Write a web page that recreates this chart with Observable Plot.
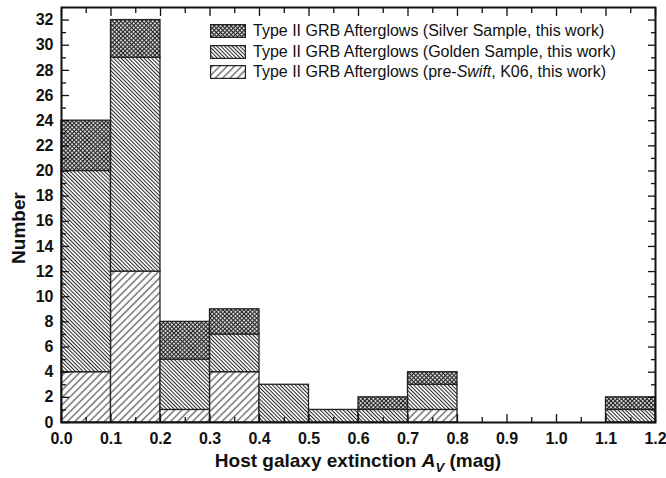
<!DOCTYPE html>
<html>
<head>
<meta charset="utf-8">
<script src="https://cdn.jsdelivr.net/npm/d3@7"></script>
<script src="https://cdn.jsdelivr.net/npm/@observablehq/plot@0.6"></script>
<style>
  body { margin: 0; background: #fff; }
  #wrap { position: relative; width: 666px; height: 478px; font-family: "Liberation Sans", Arial, Helvetica, sans-serif; color: #111; }
  #wrap svg.plot { position: absolute; left: 0; top: 0; }
  .xtitle { position: absolute; left: 0; width: 716px; top: 451px; text-align: center; font-size: 19px; font-weight: bold; line-height: 19px; white-space: nowrap; }
  .xtitle sub { font-size: 13px; vertical-align: -5px; line-height: 0; }
  .ytitle { position: absolute; left: 18px; top: 228px; font-size: 19px; font-weight: bold; line-height: 19px; transform: translate(-50%, -50%) rotate(-90deg); white-space: nowrap; }
  .legend { position: absolute; left: 210px; top: 21px; font-size: 16px; line-height: 20.5px; }
  .legend .row { display: flex; align-items: center; height: 20.5px; white-space: nowrap; }
  .legend svg { margin-right: 7px; flex: none; }
</style>
</head>
<body>
<div id="wrap"></div>
<script>
// ---- data ----
const binStart = [0.0, 0.1, 0.2, 0.3, 0.4, 0.5, 0.6, 0.7, 0.8, 0.9, 1.0, 1.1];
const binWidth = 0.1;
const preSwift = [4, 12, 1, 4, 0, 0, 0, 1, 0, 0, 0, 0];   // bottom layer
const golden   = [16, 17, 4, 3, 3, 1, 1, 2, 0, 0, 0, 1];  // middle layer
const silver   = [4, 3, 3, 2, 0, 0, 1, 1, 0, 0, 0, 1];    // top layer
const seriesNames = [
  "Type II GRB Afterglows (Silver Sample, this work)",
  "Type II GRB Afterglows (Golden Sample, this work)",
  "Type II GRB Afterglows (pre-Swift, K06, this work)"
];
const xMajorTicks = [0.0, 0.1, 0.2, 0.3, 0.4, 0.5, 0.6, 0.7, 0.8, 0.9, 1.0, 1.1, 1.2];
const xMinorTicks = [0.05, 0.15, 0.25, 0.35, 0.45, 0.55, 0.65, 0.75, 0.85, 0.95, 1.05, 1.15];
const yMajorTicks = [0, 2, 4, 6, 8, 10, 12, 14, 16, 18, 20, 22, 24, 26, 28, 30, 32];
const yMinorTicks = [1, 3, 5, 7, 9, 11, 13, 15, 17, 19, 21, 23, 25, 27, 29, 31];

// ---- stacked segments ----
const layers = [
  {key: "pre", values: preSwift, fill: "url(#patPre)"},
  {key: "golden", values: golden, fill: "url(#patGolden)"},
  {key: "silver", values: silver, fill: "url(#patSilver)"}
];
const segments = {pre: [], golden: [], silver: []};
binStart.forEach((x0, i) => {
  let base = 0;
  for (const L of layers) {
    const v = L.values[i];
    if (v > 0) segments[L.key].push({x1: x0, x2: x0 + binWidth, y1: base, y2: base + v});
    base += v;
  }
});

const blank = () => "";
const tickStroke = {stroke: "#111", strokeWidth: 1.3};

const svg = Plot.plot({
  width: 666,
  height: 478,
  marginLeft: 61,
  marginRight: 11,
  marginTop: 7,
  marginBottom: 56,
  className: "plot",
  style: {fontFamily: "'Liberation Sans', Arial, Helvetica, sans-serif", fontSize: "16px", fontWeight: "bold", color: "#111", background: "transparent"},
  x: {domain: [0, 1.2]},
  y: {domain: [0, 33]},
  marks: [
    ...layers.map(L => Plot.rect(segments[L.key], {x1: "x1", x2: "x2", y1: "y1", y2: "y2", fill: L.fill, stroke: "#222", strokeWidth: 1.3})),
    // inward ticks on all four sides
    Plot.axisX({anchor: "bottom", ticks: xMajorTicks, tickSize: -8, tickFormat: blank, label: null, ...tickStroke}),
    Plot.axisX({anchor: "bottom", ticks: xMinorTicks, tickSize: -5, tickFormat: blank, label: null, ...tickStroke}),
    Plot.axisX({anchor: "top", ticks: xMajorTicks, tickSize: -8, tickFormat: blank, label: null, ...tickStroke}),
    Plot.axisX({anchor: "top", ticks: xMinorTicks, tickSize: -5, tickFormat: blank, label: null, ...tickStroke}),
    Plot.axisY({anchor: "left", ticks: yMajorTicks, tickSize: -8, tickFormat: blank, label: null, ...tickStroke}),
    Plot.axisY({anchor: "left", ticks: yMinorTicks, tickSize: -5, tickFormat: blank, label: null, ...tickStroke}),
    Plot.axisY({anchor: "right", ticks: yMajorTicks, tickSize: -8, tickFormat: blank, label: null, ...tickStroke}),
    Plot.axisY({anchor: "right", ticks: yMinorTicks, tickSize: -5, tickFormat: blank, label: null, ...tickStroke}),
    // tick labels
    Plot.axisX({anchor: "bottom", ticks: xMajorTicks, tickSize: 0, tickPadding: 10, tickFormat: d3.format(".1f"), label: null, fill: "#111"}),
    Plot.axisY({anchor: "left", ticks: yMajorTicks, tickSize: 0, tickPadding: 8, tickFormat: d3.format("d"), label: null, fill: "#111"}),
    Plot.frame({stroke: "#111", strokeWidth: 2})
  ]
});

// hatch patterns
const defs = d3.select(svg).insert("defs", ":first-child");
function linePattern(id, size, angle, color, width) {
  const p = defs.append("pattern").attr("id", id).attr("patternUnits", "userSpaceOnUse")
    .attr("width", size).attr("height", size).attr("patternTransform", `rotate(${angle})`);
  p.append("rect").attr("width", size).attr("height", size).attr("fill", "#fff");
  p.append("line").attr("x1", size / 2).attr("x2", size / 2).attr("y1", 0).attr("y2", size)
    .attr("stroke", color).attr("stroke-width", width);
  return p;
}
linePattern("patPre", 5.2, 45, "#333", 1);
linePattern("patGolden", 2.7, -45, "#222", 1);
const ps = linePattern("patSilver", 3, 45, "#222", 1.2);
ps.append("line").attr("x1", 0).attr("x2", 3).attr("y1", 1.5).attr("y2", 1.5).attr("stroke", "#222").attr("stroke-width", 1.2);

const wrap = document.getElementById("wrap");
wrap.appendChild(svg);

// axis titles
const xt = document.createElement("div");
xt.className = "xtitle";
xt.innerHTML = "Host galaxy extinction <i>A<sub>V</sub></i> (mag)";
wrap.appendChild(xt);
const yt = document.createElement("div");
yt.className = "ytitle";
yt.textContent = "Number";
wrap.appendChild(yt);

// legend
const legend = document.createElement("div");
legend.className = "legend";
const legendFills = ["url(#patSilver)", "url(#patGolden)", "url(#patPre)"];
seriesNames.forEach((name, i) => {
  const row = document.createElement("div");
  row.className = "row";
  const sw = d3.create("svg").attr("width", 36).attr("height", 14);
  sw.append("rect").attr("x", 0.6).attr("y", 0.6).attr("width", 34.8).attr("height", 12.8)
    .attr("fill", legendFills[i]).attr("stroke", "#222").attr("stroke-width", 1.2);
  row.appendChild(sw.node());
  const span = document.createElement("span");
  span.innerHTML = name.replace("pre-Swift", "pre-<i>Swift</i>");
  row.appendChild(span);
  legend.appendChild(row);
});
wrap.appendChild(legend);
</script>
</body>
</html>
